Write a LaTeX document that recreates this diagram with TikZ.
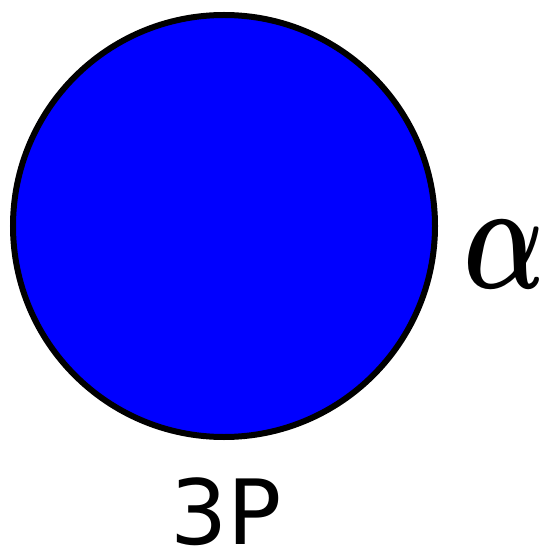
\documentclass[tikz,border=0pt]{standalone}
\usepackage{fontspec}
\usepackage{graphicx}
\setmainfont{DejaVu Sans}
\usetikzlibrary{positioning}
\definecolor{orbblue}{RGB}{0,0,255}

\begin{document}
\begin{tikzpicture}[x=1pt,y=-1pt]
        \useasboundingbox (0,0) rectangle (551,553);
        \node[circle, draw=black, line width=6pt, fill=orbblue,
              minimum size=422pt, inner sep=0pt] (orb) at (224,226) {};
        \node[font=\fontsize{90}{90}\selectfont, inner sep=0pt, anchor=base]
          (name) at (226,544) {3P};
        \node[inner sep=0pt, anchor=base]
          (spin) at (505,288) {\resizebox{82pt}{68pt}{\boldmath$\alpha$}};
      \end{tikzpicture}
\end{document}
